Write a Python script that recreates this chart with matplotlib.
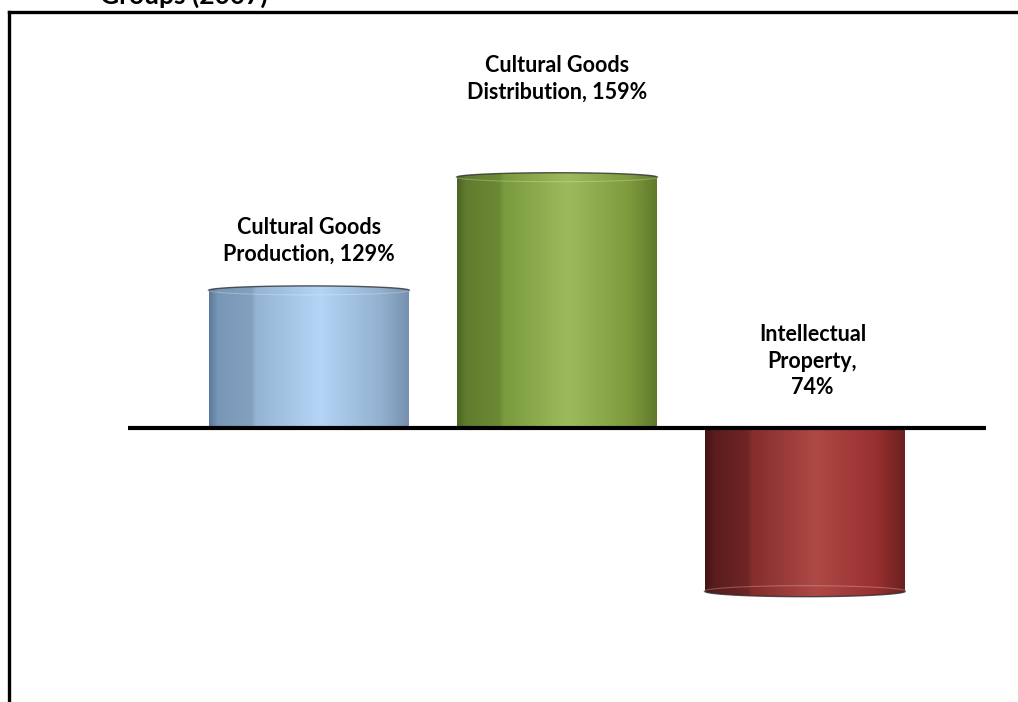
import numpy as np
import matplotlib
matplotlib.use("Agg")
import matplotlib.pyplot as plt
from matplotlib.path import Path
from matplotlib.transforms import IdentityTransform
from matplotlib.colors import LinearSegmentedColormap

plt.rcParams['font.family'] = ['Lato', 'DejaVu Sans']

# data
categories = ['Cultural Goods\nProduction, 129%',
              'Cultural Goods\nDistribution, 159%',
              'Intellectual\nProperty,\n74%']
values = [129, 159, 74]
base = 100
title = 'Groups (2007)'

# colour stops across each cylinder (left -> right)
stops = [0.0, 0.04, 0.21, 0.23, 0.55, 0.85, 1.0]
bar_colors = [
    ['#5c7b9c', '#7896b6', '#84a1c0', '#95b4d4', '#b4d5f6', '#93b1d0', '#7590ae'],
    ['#4c6622', '#607c2e', '#6c8a34', '#7a9a3e', '#9cbb5c', '#7e9c3e', '#5f792b'],
    ['#451414', '#5a1c1c', '#702525', '#842d2c', '#ae4946', '#98302f', '#6a2020'],
]

fig = plt.figure(figsize=(10.18, 7.02), dpi=100)
ax = fig.add_axes([0, 0, 1, 1])
ax.set_yscale('log')
ax.set_xlim(-1.246, 2.859)
ax.set_ylim(60.3, 220.6)
ax.axis('off')

x = np.arange(len(values))
heights = [v - base for v in values]
rects = ax.bar(x, heights, bottom=base, width=0.81, color='none', edgecolor='none')

ident = IdentityTransform()
for rect, v, cols in zip(rects, values, bar_colors):
    x0d = rect.get_x()
    x1d = x0d + rect.get_width()
    px0, pyb = ax.transData.transform((x0d, base))
    px1, pye = ax.transData.transform((x1d, v))
    up = 1 if v >= base else -1
    e = 4.5 if up > 0 else 5.5
    a = (px1 - px0) / 2
    cx = (px0 + px1) / 2
    th = np.linspace(0, np.pi, 60)
    arc_x = cx + a * np.cos(th)
    arc_y = pye + up * e * np.sin(th)
    verts = [(px0, pyb), (px1, pyb)] + list(zip(arc_x, arc_y)) + [(px0, pyb)]
    codes = [Path.MOVETO] + [Path.LINETO] * (len(verts) - 2) + [Path.CLOSEPOLY]
    clip = Path(verts, codes)

    cmap = LinearSegmentedColormap.from_list('cyl', list(zip(stops, cols)))
    grad = cmap(np.linspace(0, 1, 256))[None, :, :3]
    grad = np.repeat(grad, 2, axis=0)
    lo, hi = min(base, v) * 0.95, max(base, v) * 1.05
    im = ax.imshow(grad, extent=(x0d, x1d, lo, hi), aspect='auto',
                   interpolation='bilinear', zorder=2)
    im.set_clip_path(clip, transform=ident)

    # rim of the end face
    ax.plot(arc_x, arc_y, color='#2e2e2e', lw=1.0, alpha=0.8,
            transform=ident, zorder=3)
    front_y = pye - up * e * np.sin(th)
    ax.plot(arc_x, front_y, color='white', lw=0.8, alpha=0.25,
            transform=ident, zorder=3)

ax.set_xlim(-1.246, 2.859)
ax.set_ylim(60.3, 220.6)

# base line
ax.hlines(base, -0.73, 2.73, color='black', lw=3.0, zorder=4)

# labels
offsets = [(0, 26), (0, 75), (0.03, 30)]
for xi, v, lab, (dx, dy) in zip(x, values, categories, offsets):
    yv = v if v >= base else base
    ax.annotate(lab, xy=(xi + dx, yv), xytext=(0, dy), textcoords='offset pixels',
                ha='center', va='bottom', fontsize=15.5, fontweight='bold',
                linespacing=1.32, color='black')

# frame lines (left and top)
fig.add_artist(plt.Line2D([9 / 1018, 9 / 1018], [0, 1 - 12 / 702],
                          transform=fig.transFigure, color='black', lw=2.4,
                          solid_capstyle='projecting'))
fig.add_artist(plt.Line2D([9 / 1018, 1], [1 - 12 / 702, 1 - 12 / 702],
                          transform=fig.transFigure, color='black', lw=2.4,
                          solid_capstyle='projecting'))

# title (cut off at the top edge, as in the source)
fig.text(184 / 1018, 1 - 4 / 702, title, ha='center', va='baseline',
         fontsize=19, fontweight='bold')

fig.savefig('out.png', dpi=100)
